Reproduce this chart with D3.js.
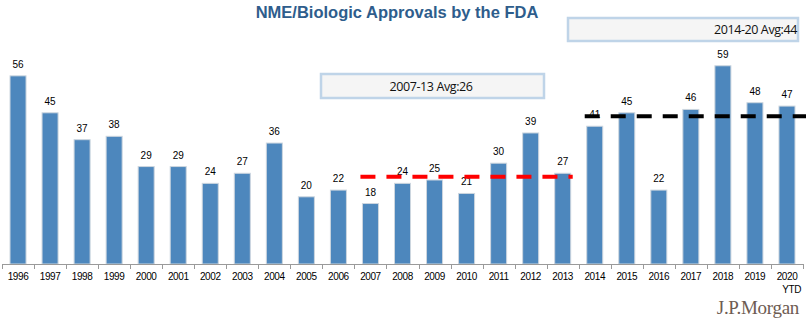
<!DOCTYPE html>
<html>
<head>
<meta charset="utf-8">
<script src="https://cdn.jsdelivr.net/npm/d3@7"></script>
<style>
  body { margin: 0; background: #fff; }
  svg { display: block; }
</style>
</head>
<body>
<script>
const years = ['1996', '1997', '1998', '1999', '2000', '2001', '2002', '2003', '2004', '2005', '2006', '2007', '2008',
  '2009', '2010', '2011', '2012', '2013', '2014', '2015', '2016', '2017', '2018', '2019', '2020'];
const approvals = [56, 45, 37, 38, 29, 29, 24, 27, 36, 20, 22, 18, 24, 25, 21, 30, 39, 27, 41, 45, 22, 46, 59, 48, 47];

// period averages: label, value, first/last year
const avgNames = ['2007-13 Avg:26', '2014-20 Avg:44'];
const avgValues = [26, 44];
const avgFrom = ['2007', '2014'];
const avgTo = ['2013', '2020'];

const width = 806;
const height = 326;
const baseY = 264;

const svg = d3.select('body').append('svg')
  .attr('width', width)
  .attr('height', height);

const x = d3.scaleBand()
  .domain(years)
  .range([2, 803])
  .paddingInner(0.5)
  .paddingOuter(0.25);

const y = d3.scaleLinear()
  .domain([0, 60])
  .range([baseY, baseY - 60 * 3.36]);

// title
svg.append('text')
  .attr('x', 397)
  .attr('y', 18)
  .attr('text-anchor', 'middle')
  .style('font', "bold 16.5px 'Liberation Sans', Arial, sans-serif")
  .style('fill', '#2e5d8c')
  .text('NME/Biologic Approvals by the FDA');

// bars
svg.selectAll('rect.bar')
  .data(approvals)
  .join('rect')
  .attr('class', 'bar')
  .attr('x', (d, i) => x(years[i]))
  .attr('y', (d) => y(d))
  .attr('width', x.bandwidth())
  .attr('height', (d) => baseY - y(d))
  .attr('fill', '#4d87bd')
  .attr('stroke', '#cdd6df')
  .attr('stroke-width', 1);

// value labels
svg.selectAll('text.val')
  .data(approvals)
  .join('text')
  .attr('class', 'val')
  .attr('x', (d, i) => x(years[i]) + x.bandwidth() / 2)
  .attr('y', (d) => y(d) - 8)
  .attr('text-anchor', 'middle')
  .style('font', "10px 'Liberation Sans', Arial, sans-serif")
  .style('fill', '#000')
  .text((d) => d);

// x axis
const step = x.step();
const axis = svg.append('g');
axis.append('line')
  .attr('x1', 2).attr('x2', 803)
  .attr('y1', baseY + 0.5).attr('y2', baseY + 0.5)
  .attr('stroke', '#9a9a9a');
axis.selectAll('line.tick')
  .data(d3.range(years.length + 1))
  .join('line')
  .attr('class', 'tick')
  .attr('x1', (i) => Math.round(2 + i * step) + 0.5)
  .attr('x2', (i) => Math.round(2 + i * step) + 0.5)
  .attr('y1', baseY)
  .attr('y2', baseY + 5)
  .attr('stroke', '#9a9a9a');
axis.selectAll('text.year')
  .data(years)
  .join('text')
  .attr('class', 'year')
  .attr('x', (d) => x(d) + x.bandwidth() / 2)
  .attr('y', 280)
  .attr('text-anchor', 'middle')
  .style('font', "10px 'Liberation Sans', Arial, sans-serif")
  .style('letter-spacing', '-0.4px')
  .style('fill', '#000')
  .text((d) => d);
axis.append('text')
  .attr('x', x('2020') + x.bandwidth() / 2 + 14)
  .attr('y', 293)
  .attr('text-anchor', 'end')
  .style('font', "10px 'Liberation Sans', Arial, sans-serif")
  .style('letter-spacing', '-0.4px')
  .text('YTD');

// average dashed lines
const avgColors = ['#ff0000', '#000000'];
avgValues.forEach((v, i) => {
  const x1 = x(avgFrom[i]) - x.step() * 0.25 + 6;
  const x2 = i === 1 ? width : x(avgTo[i]) + x.bandwidth() + x.step() * 0.25 - 6;
  svg.append('line')
    .attr('x1', x1)
    .attr('x2', x2)
    .attr('y1', y(v))
    .attr('y2', y(v))
    .attr('stroke', avgColors[i])
    .attr('stroke-width', 4)
    .attr('stroke-dasharray', '15 11');
});

// average boxes
const boxes = [
  {x: 320, y: 73, w: 225, h: 26, tx: 431, anchor: 'middle'},
  {x: 567, y: 17, w: 232, h: 25, tx: 797, anchor: 'end'},
];
boxes.forEach((b, i) => {
  svg.append('rect')
    .attr('x', b.x + 1)
    .attr('y', b.y + 1)
    .attr('width', b.w - 2)
    .attr('height', b.h - 2)
    .attr('fill', '#f5f5f5')
    .attr('stroke', '#bfd4e8')
    .attr('stroke-width', 2.5);
  svg.append('text')
    .attr('x', b.tx)
    .attr('y', b.y + b.h / 2 + 4.5)
    .attr('text-anchor', b.anchor)
    .style('font', "12.5px 'Open Sans', 'Noto Sans', sans-serif")
    .style('letter-spacing', '-0.4px')
    .style('fill', '#111')
    .text(avgNames[i]);
});

// logo
svg.append('text')
  .attr('x', 799)
  .attr('y', 314)
  .attr('text-anchor', 'end')
  .style('font', "19px 'Liberation Serif', 'DejaVu Serif', serif")
  .style('letter-spacing', '-0.3px')
  .style('fill', '#6e5c52')
  .text('J.P.Morgan');
</script>
</body>
</html>
